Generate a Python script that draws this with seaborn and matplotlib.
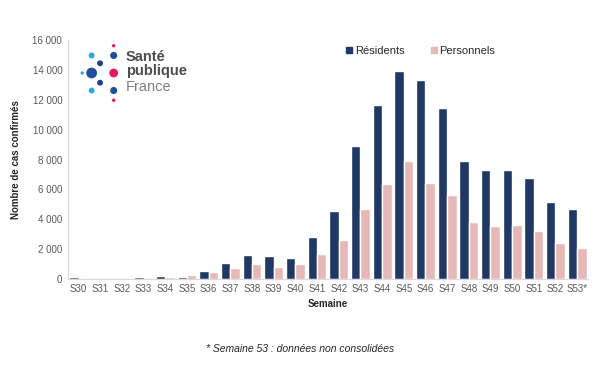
import numpy as np
import pandas as pd
import seaborn as sns
import matplotlib.pyplot as plt
from matplotlib.lines import Line2D
from matplotlib.ticker import FuncFormatter

# Weekly confirmed cases
semaines = ["S30", "S31", "S32", "S33", "S34", "S35", "S36", "S37", "S38", "S39", "S40", "S41",
            "S42", "S43", "S44", "S45", "S46", "S47", "S48", "S49", "S50", "S51", "S52", "S53*"]
residents = [100, 50, 40, 100, 180, 150, 550, 1070, 1580, 1530, 1380, 2780,
             4530, 8890, 11640, 13930, 13330, 11440, 7930, 7270, 7330, 6730, 5180, 4710]
personnels = [50, 30, 30, 70, 150, 230, 470, 710, 1000, 820, 1000, 1670,
              2580, 4690, 6360, 7930, 6400, 5600, 3780, 3530, 3580, 3240, 2380, 2070]
groupes = ["Résidents", "Personnels"]
couleurs = ["#1f3864", "#e6b9b8"]

df = pd.DataFrame({
    "semaine": semaines * 2,
    "cas": residents + personnels,
    "groupe": [groupes[0]] * len(semaines) + [groupes[1]] * len(semaines),
})

sns.set_style("white")
plt.rcParams["font.family"] = ["Liberation Sans", "DejaVu Sans"]

fig = plt.figure(figsize=(6, 3.65), dpi=100)
ax = fig.add_axes([0.113, 0.236, 0.867, 0.654])

sns.barplot(data=df, x="semaine", y="cas", hue="groupe", hue_order=groupes,
            palette=couleurs, width=0.87, gap=0, saturation=1, ax=ax, legend=False)

ax.set_ylim(0, 16000)
ax.set_xlim(-0.5, len(semaines) - 0.5)
ax.set_yticks(np.arange(0, 16001, 2000))
ax.yaxis.set_major_formatter(FuncFormatter(lambda v, _: f"{int(v):,}".replace(",", " ")))
ax.tick_params(axis="both", labelsize=7, colors="#595959", length=0, pad=4)
for side in ["top", "right"]:
    ax.spines[side].set_visible(False)
for side in ["left", "bottom"]:
    ax.spines[side].set_color("#d9d9d9")
    ax.spines[side].set_linewidth(0.8)

ax.set_xlabel("Semaine", fontsize=7, fontweight="bold", labelpad=3)
ax.set_ylabel("Nombre de cas confirmés", fontsize=7, fontweight="bold", labelpad=8)

handles = [Line2D([], [], marker="s", linestyle="", color=c, markersize=5) for c in couleurs]
fig.legend(handles, groupes, loc="center", bbox_to_anchor=(0.70, 0.86), ncol=2,
           frameon=False, fontsize=8, handletextpad=0.1, columnspacing=2.2, handlelength=0.8,
           labelcolor="#262626")

fig.text(0.5, 0.045, "* Semaine 53 : données non consolidées", ha="center", va="center",
         fontsize=7.5, style="italic", color="#262626")

# Santé publique France logo
logo = fig.add_axes([0.13, 0.72, 0.07, 0.16])
logo.set_xlim(0, 40)
logo.set_ylim(0, 60)
logo.axis("off")
dots_x = [4, 13, 13, 21, 21, 34, 34, 34, 34, 34, 13]
dots_y = [30, 30, 48, 40, 20, 30, 48, 12, 58, 2, 12]
dots_s = [6, 60, 18, 18, 18, 40, 26, 26, 6, 6, 18]
dots_c = ["#29abe2", "#1f4e9a", "#29abe2", "#1f3f8f", "#1f3f8f", "#e5175f",
          "#1f4e9a", "#1f4e9a", "#e5175f", "#e5175f", "#29abe2"]
logo.scatter(dots_x, dots_y, s=dots_s, c=dots_c, linewidths=0)
fig.text(0.21, 0.845, "Santé", fontsize=10.5, fontweight="bold", color="#4d4d4d", va="center")
fig.text(0.21, 0.805, "publique", fontsize=10.5, fontweight="bold", color="#4d4d4d", va="center")
fig.text(0.21, 0.762, "France", fontsize=10.5, color="#7f7f7f", va="center")

fig.savefig("out.png", dpi=100)
